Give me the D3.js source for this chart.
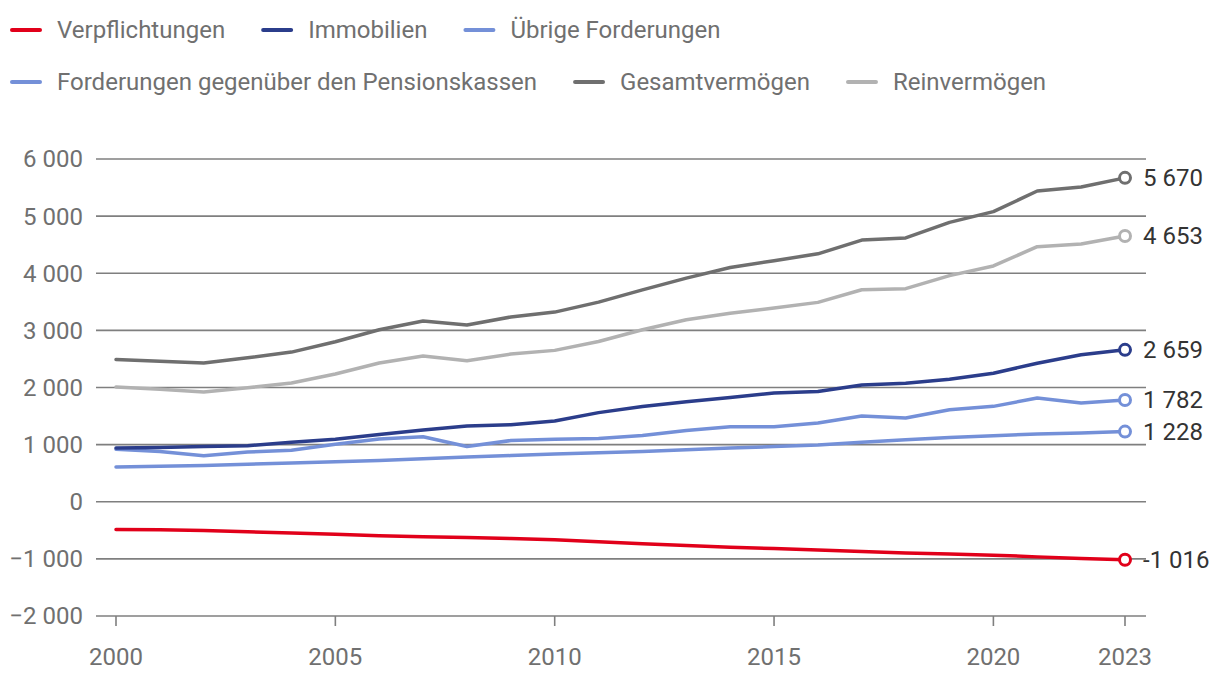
<!DOCTYPE html>
<html>
<head>
<meta charset="utf-8">
<script src="https://cdn.jsdelivr.net/npm/d3@7"></script>
<style>
  html, body { margin: 0; padding: 0; background: #fff; }
  svg { display: block; font-family: Roboto, "Noto Sans", sans-serif; }
</style>
</head>
<body>
<svg id="chart" width="1220" height="678"></svg>
<script>
const years = d3.range(2000, 2024);
const xTicks = [2000, 2005, 2010, 2015, 2020, 2023];
const yTicks = [6000, 5000, 4000, 3000, 2000, 1000, 0, -1000, -2000];

const seriesNames = ["Verpflichtungen", "Immobilien", "Übrige Forderungen",
  "Forderungen gegenüber den Pensionskassen", "Gesamtvermögen", "Reinvermögen"];
const seriesColors = ["#e1001a", "#2b3d8b", "#7490d8", "#7490d8", "#6f6f6f", "#b2b2b2"];

const verpflichtungen = [-485, -490, -505, -525, -545, -568, -595, -612, -625, -645, -665, -700, -735, -765, -795, -820, -845, -870, -895, -915, -935, -965, -995, -1016];
const immobilien = [940, 951, 968, 980, 1040, 1095, 1178, 1258, 1328, 1348, 1415, 1560, 1668, 1750, 1825, 1905, 1930, 2045, 2075, 2145, 2250, 2425, 2572, 2659];
const uebrigeForderungen = [920, 880, 805, 870, 900, 1008, 1100, 1138, 968, 1072, 1095, 1108, 1160, 1248, 1312, 1315, 1378, 1500, 1466, 1610, 1670, 1815, 1730, 1782];
const pensionskassen = [608, 622, 636, 656, 677, 700, 723, 752, 782, 808, 835, 858, 881, 910, 940, 966, 992, 1040, 1086, 1126, 1156, 1186, 1203, 1228];
const gesamtvermoegen = [2490, 2460, 2430, 2520, 2620, 2800, 3010, 3165, 3095, 3235, 3320, 3495, 3710, 3915, 4100, 4220, 4340, 4580, 4618, 4890, 5078, 5440, 5510, 5670];
const reinvermoegen = [2010, 1970, 1920, 1995, 2078, 2236, 2428, 2550, 2470, 2585, 2650, 2805, 3010, 3185, 3300, 3392, 3490, 3712, 3730, 3958, 4128, 4465, 4512, 4653];

const endLabels = ["-1 016", "2 659", "1 782", "1 228", "5 670", "4 653"];

const seriesValues = [verpflichtungen, immobilien, uebrigeForderungen, pensionskassen, gesamtvermoegen, reinvermoegen];
// draw order: back to front
const drawOrder = [3, 2, 1, 5, 4, 0];

const svg = d3.select("#chart");
const x = d3.scaleLinear().domain([2000, 2023]).range([116, 1125]);
const y = d3.scaleLinear().domain([-2000, 6000]).range([616, 159]);

const fmt = v => {
  const s = d3.format(",")(Math.abs(v)).replace(/,/g, " ");
  return (v < 0 ? "\u2212" : "") + s;
};

const FS = 24;

// grid lines
svg.append("g").selectAll("line").data(yTicks).join("line")
  .attr("x1", 96).attr("x2", 1146)
  .attr("y1", d => y(d)).attr("y2", d => y(d))
  .attr("stroke", "#7f7f7f").attr("stroke-width", 1.6);

// y labels
svg.append("g").selectAll("text").data(yTicks).join("text")
  .attr("x", 83).attr("y", d => y(d)).attr("dy", "0.35em")
  .attr("text-anchor", "end").attr("fill", "#707070").attr("font-size", FS)
  .text(d => fmt(d));

// x axis ticks & labels
const xAxis = svg.append("g");
xAxis.selectAll("line").data(xTicks).join("line")
  .attr("x1", d => x(d)).attr("x2", d => x(d))
  .attr("y1", y(-2000)).attr("y2", y(-2000) + 10)
  .attr("stroke", "#7f7f7f").attr("stroke-width", 1.6);
xAxis.selectAll("text").data(xTicks).join("text")
  .attr("x", d => x(d)).attr("y", 657).attr("dy", "0.35em")
  .attr("text-anchor", "middle").attr("fill", "#707070").attr("font-size", FS)
  .text(d => d);

// lines
const line = d3.line().x((d, i) => x(years[i])).y(d => y(d));
drawOrder.forEach(k => {
  svg.append("path").datum(seriesValues[k])
    .attr("d", line).attr("fill", "none")
    .attr("stroke", seriesColors[k]).attr("stroke-width", 3.5)
    .attr("stroke-linejoin", "round").attr("stroke-linecap", "round");
});

// end markers and labels
drawOrder.forEach(k => {
  const v = seriesValues[k][seriesValues[k].length - 1];
  svg.append("circle").attr("cx", x(2023)).attr("cy", y(v)).attr("r", 5.5)
    .attr("fill", "#fff").attr("stroke", seriesColors[k]).attr("stroke-width", 3);
  svg.append("text").attr("x", 1143).attr("y", y(v)).attr("dy", "0.35em")
    .attr("fill", "#333").attr("font-size", FS).text(endLabels[k]);
});

// legend
const legendRows = [[0, 1, 2], [3, 4, 5]];
const legendY = [30, 82];
legendRows.forEach((row, r) => {
  let cx = 10;
  row.forEach(k => {
    const g = svg.append("g");
    g.append("line").attr("x1", cx + 2).attr("x2", cx + 30)
      .attr("y1", legendY[r]).attr("y2", legendY[r])
      .attr("stroke", seriesColors[k]).attr("stroke-width", 4).attr("stroke-linecap", "round");
    const t = g.append("text").attr("x", cx + 47).attr("y", legendY[r]).attr("dy", "0.35em")
      .attr("fill", "#707070").attr("font-size", FS).text(seriesNames[k]);
    cx += 47 + t.node().getComputedTextLength() + 36;
  });
});
</script>
</body>
</html>
